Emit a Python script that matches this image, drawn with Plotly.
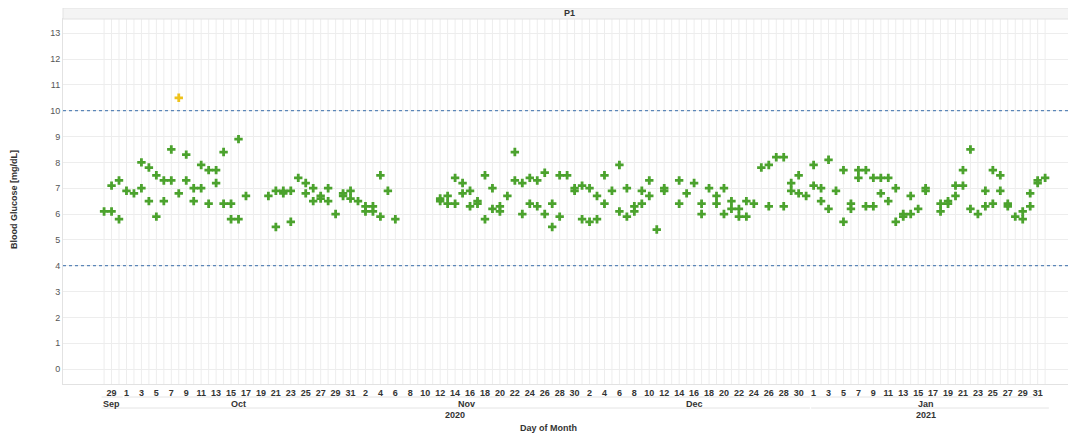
import pandas as pd
import plotly.graph_objects as go

# ---------------- data ----------------
dates = [
    "2020-09-28", "2020-09-29", "2020-09-29", "2020-09-30", "2020-09-30",
    "2020-10-01", "2020-10-02", "2020-10-03", "2020-10-03", "2020-10-04", "2020-10-04",
    "2020-10-05", "2020-10-05", "2020-10-06", "2020-10-06", "2020-10-07", "2020-10-07",
    "2020-10-08", "2020-10-08", "2020-10-09", "2020-10-09", "2020-10-10", "2020-10-10",
    "2020-10-11", "2020-10-11", "2020-10-12", "2020-10-12", "2020-10-13", "2020-10-13",
    "2020-10-14", "2020-10-14", "2020-10-15", "2020-10-15", "2020-10-16", "2020-10-16",
    "2020-10-17", "2020-10-20", "2020-10-21", "2020-10-21", "2020-10-22", "2020-10-22",
    "2020-10-23", "2020-10-23", "2020-10-24", "2020-10-25", "2020-10-25", "2020-10-26",
    "2020-10-26", "2020-10-27", "2020-10-27", "2020-10-28", "2020-10-28", "2020-10-29",
    "2020-10-30", "2020-10-30", "2020-10-31", "2020-10-31",
    "2020-11-01", "2020-11-02", "2020-11-02", "2020-11-03", "2020-11-03", "2020-11-04",
    "2020-11-04", "2020-11-05", "2020-11-06", "2020-11-12", "2020-11-12", "2020-11-13",
    "2020-11-13", "2020-11-14", "2020-11-14", "2020-11-15", "2020-11-15", "2020-11-16",
    "2020-11-16", "2020-11-17", "2020-11-17", "2020-11-18", "2020-11-18", "2020-11-19",
    "2020-11-19", "2020-11-20", "2020-11-20", "2020-11-21", "2020-11-22", "2020-11-22",
    "2020-11-23", "2020-11-23", "2020-11-24", "2020-11-24", "2020-11-25", "2020-11-25",
    "2020-11-26", "2020-11-26", "2020-11-27", "2020-11-27", "2020-11-28", "2020-11-28",
    "2020-11-29", "2020-11-30", "2020-11-30",
    "2020-12-01", "2020-12-01", "2020-12-02", "2020-12-02", "2020-12-03", "2020-12-03",
    "2020-12-04", "2020-12-04", "2020-12-05", "2020-12-06", "2020-12-06", "2020-12-07",
    "2020-12-07", "2020-12-08", "2020-12-08", "2020-12-09", "2020-12-09", "2020-12-10",
    "2020-12-10", "2020-12-11", "2020-12-12", "2020-12-12", "2020-12-14", "2020-12-14",
    "2020-12-15", "2020-12-16", "2020-12-17", "2020-12-17", "2020-12-18", "2020-12-19",
    "2020-12-19", "2020-12-20", "2020-12-20", "2020-12-21", "2020-12-21", "2020-12-22",
    "2020-12-22", "2020-12-23", "2020-12-23", "2020-12-24", "2020-12-25", "2020-12-26",
    "2020-12-26", "2020-12-27", "2020-12-28", "2020-12-28", "2020-12-29", "2020-12-29",
    "2020-12-30", "2020-12-30", "2020-12-31",
    "2021-01-01", "2021-01-01", "2021-01-02", "2021-01-02", "2021-01-03", "2021-01-03",
    "2021-01-04", "2021-01-05", "2021-01-05", "2021-01-06", "2021-01-06", "2021-01-07",
    "2021-01-07", "2021-01-08", "2021-01-08", "2021-01-09", "2021-01-09", "2021-01-10",
    "2021-01-10", "2021-01-11", "2021-01-11", "2021-01-12", "2021-01-12", "2021-01-13",
    "2021-01-13", "2021-01-14", "2021-01-14", "2021-01-15", "2021-01-16", "2021-01-16",
    "2021-01-18", "2021-01-18", "2021-01-19", "2021-01-19", "2021-01-20", "2021-01-20",
    "2021-01-21", "2021-01-21", "2021-01-22", "2021-01-22", "2021-01-23", "2021-01-24",
    "2021-01-24", "2021-01-25", "2021-01-25", "2021-01-26", "2021-01-26", "2021-01-27",
    "2021-01-27", "2021-01-28", "2021-01-29", "2021-01-29", "2021-01-30", "2021-01-30",
    "2021-01-31", "2021-01-31", "2021-02-01",
]
glucose = [
    6.1, 6.1, 7.1, 7.3, 5.8,
    6.9, 6.8, 8.0, 7.0, 7.8, 6.5,
    7.5, 5.9, 7.3, 6.5, 8.5, 7.3,
    6.8, 10.5, 8.3, 7.3, 7.0, 6.5,
    7.9, 7.0, 7.7, 6.4, 7.7, 7.2,
    8.4, 6.4, 6.4, 5.8, 8.9, 5.8,
    6.7, 6.7, 6.9, 5.5, 6.9, 6.8,
    6.9, 5.7, 7.4, 7.2, 6.8, 7.0,
    6.5, 6.7, 6.6, 7.0, 6.5, 6.0,
    6.8, 6.7, 6.9, 6.6,
    6.5, 6.3, 6.1, 6.3, 6.1, 7.5,
    5.9, 6.9, 5.8, 6.6, 6.5, 6.7,
    6.4, 7.4, 6.4, 7.2, 6.8, 6.9,
    6.3, 6.5, 6.4, 7.5, 5.8, 7.0,
    6.2, 6.3, 6.1, 6.7, 8.4, 7.3,
    7.2, 6.0, 7.4, 6.4, 7.3, 6.3,
    7.6, 6.0, 6.4, 5.5, 7.5, 5.9,
    7.5, 7.0, 6.9,
    7.1, 5.8, 7.0, 5.7, 6.7, 5.8,
    7.5, 6.4, 6.9, 7.9, 6.1, 7.0,
    5.9, 6.3, 6.1, 6.9, 6.4, 7.3,
    6.7, 5.4, 7.0, 6.9, 7.3, 6.4,
    6.8, 7.2, 6.4, 6.0, 7.0, 6.7,
    6.4, 7.0, 6.0, 6.5, 6.2, 6.2,
    5.9, 6.5, 5.9, 6.4, 7.8, 7.9,
    6.3, 8.2, 8.2, 6.3, 7.2, 6.9,
    7.5, 6.8, 6.7,
    7.9, 7.1, 7.0, 6.5, 8.1, 6.2,
    6.9, 7.7, 5.7, 6.4, 6.2, 7.7,
    7.4, 7.7, 6.3, 7.4, 6.3, 7.4,
    6.8, 7.4, 6.5, 7.0, 5.7, 6.0,
    5.9, 6.7, 6.0, 6.2, 7.0, 6.9,
    6.4, 6.1, 6.5, 6.4, 7.1, 6.7,
    7.7, 7.1, 8.5, 6.2, 6.0, 6.9,
    6.3, 7.7, 6.4, 7.5, 6.9, 6.4,
    6.3, 5.9, 6.1, 5.8, 6.8, 6.3,
    7.3, 7.2, 7.4,
]

lower_limit = 4
upper_limit = 10

y_ticks = list(range(0, 14))

month_labels = ["Sep", "Oct", "Nov", "Dec", "Jan"]
month_starts = ["2020-09-28", "2020-10-01", "2020-11-01", "2020-12-01", "2021-01-01"]
month_ends = ["2020-09-30", "2020-10-31", "2020-11-30", "2020-12-31", "2021-01-31"]

year_labels = ["2020", "2021"]
year_starts = ["2020-09-28", "2021-01-01"]
year_ends = ["2020-12-31", "2021-01-31"]

tick_first = "2020-09-29"
tick_last = "2021-01-31"

# ---------------- figure ----------------
GREEN = "#4ba22d"
YELLOW = "#eec21c"
GRID = "#ededed"
FONT = "Liberation Sans, Arial, sans-serif"

# page body has an 8px margin, so the figure is sized to fill the rest
W, H = 1068, 427
L, R, T, B = 55, 1, 11, 51
PH = H - T - B          # plot height in px
PW = W - L - R          # plot width in px
PX = 1 / PH

dt = pd.to_datetime(dates)
colors = [YELLOW if v > upper_limit else GREEN for v in glucose]

fig = go.Figure()
fig.add_trace(go.Scatter(
    x=dt, y=glucose, mode="markers",
    marker=dict(symbol="cross", size=7, color=colors, line=dict(width=0)),
    showlegend=False, hoverinfo="x+y",
))

half = pd.Timedelta(hours=12)
x_range = [pd.Timestamp("2020-09-22 12:00"), pd.Timestamp("2021-02-05 00:00")]

shapes = []
grid_days = pd.date_range(dt.min(), dt.max(), freq="D")
for d in grid_days:
    shapes.append(dict(type="line", xref="x", yref="paper", x0=d, x1=d, y0=0, y1=1,
                       line=dict(color=GRID, width=1), layer="below"))

for v in (lower_limit, upper_limit):
    shapes.append(dict(type="line", xref="paper", yref="y", x0=0, x1=1, y0=v, y1=v,
                       line=dict(color="#5b86b8", width=1.2, dash="dot"), layer="above"))

shapes.append(dict(type="rect", xref="paper", yref="paper", x0=0, x1=1,
                   y0=1.0, y1=1 + 11 * PX, fillcolor="#f4f4f4",
                   line=dict(color="#e2e2e2", width=1)))

for s, e in zip(month_starts, month_ends):
    shapes.append(dict(type="line", xref="x", yref="paper",
                       x0=pd.Timestamp(s) - half + pd.Timedelta(hours=4),
                       x1=pd.Timestamp(e) + half,
                       y0=-13 * PX, y1=-13 * PX,
                       line=dict(color="#e4e4e4", width=1)))
for s, e in zip(year_starts, year_ends):
    extra = pd.Timedelta(days=1) if s.startswith("2021") else pd.Timedelta(0)
    shapes.append(dict(type="line", xref="x", yref="paper",
                       x0=pd.Timestamp(s) - half + pd.Timedelta(hours=4),
                       x1=pd.Timestamp(e) + half + extra,
                       y0=-24 * PX, y1=-24 * PX,
                       line=dict(color="#e4e4e4", width=1)))

annotations = []
annotations.append(dict(text="<b>P1</b>", xref="paper", yref="paper", x=0.5,
                        y=1 + 5.5 * PX, showarrow=False, yanchor="middle",
                        font=dict(size=9, color="#333333", family=FONT)))
for lab, s, e in zip(month_labels, month_starts, month_ends):
    mid = pd.Timestamp(s) + (pd.Timestamp(e) - pd.Timestamp(s)) / 2
    annotations.append(dict(text=f"<b>{lab}</b>", xref="x", yref="paper", x=mid,
                            y=-20 * PX, showarrow=False, yanchor="middle",
                            font=dict(size=9, color="#333333", family=FONT)))
for lab, s, e in zip(year_labels, year_starts, year_ends):
    mid = pd.Timestamp(s) + (pd.Timestamp(e) - pd.Timestamp(s)) / 2
    annotations.append(dict(text=f"<b>{lab}</b>", xref="x", yref="paper", x=mid,
                            y=-31 * PX, showarrow=False, yanchor="middle",
                            font=dict(size=9, color="#333333", family=FONT)))
annotations.append(dict(text="<b>Day of Month</b>", xref="paper", yref="paper",
                        x=(548 - 63) / PW, y=-44 * PX, showarrow=False, yanchor="middle",
                        font=dict(size=9, color="#333333", family=FONT)))
annotations.append(dict(text="<b>Blood Glucose [mg/dL]</b>", xref="paper", yref="paper",
                        x=-49 / PW, y=0.504, showarrow=False, textangle=-90,
                        xanchor="center", yanchor="middle",
                        font=dict(size=9, color="#333333", family=FONT)))

tick_dates = pd.date_range(tick_first, tick_last, freq="2D")
tick_text = [f"<b>{d.day}</b>" for d in tick_dates]

fig.update_layout(
    width=W, height=H,
    margin=dict(l=L, r=R, t=T, b=B),
    paper_bgcolor="white", plot_bgcolor="white",
    font=dict(family=FONT, size=9, color="#555555"),
    shapes=shapes, annotations=annotations,
    xaxis=dict(
        type="date", range=x_range, showgrid=False, zeroline=False,
        tickmode="array", tickvals=tick_dates, ticktext=tick_text,
        tickfont=dict(size=9, color="#333333", family=FONT),
        ticks="", showline=True, linecolor="#e2e2e2", mirror=True,
    ),
    yaxis=dict(
        range=[-0.58, 13.55], tickmode="array", tickvals=y_ticks,
        showgrid=True, gridcolor=GRID, zeroline=False,
        tickfont=dict(size=9, color="#555555", family=FONT),
        ticks="", showline=True, linecolor="#e2e2e2", mirror=True,
    ),
)

fig.write_html("out.html")
